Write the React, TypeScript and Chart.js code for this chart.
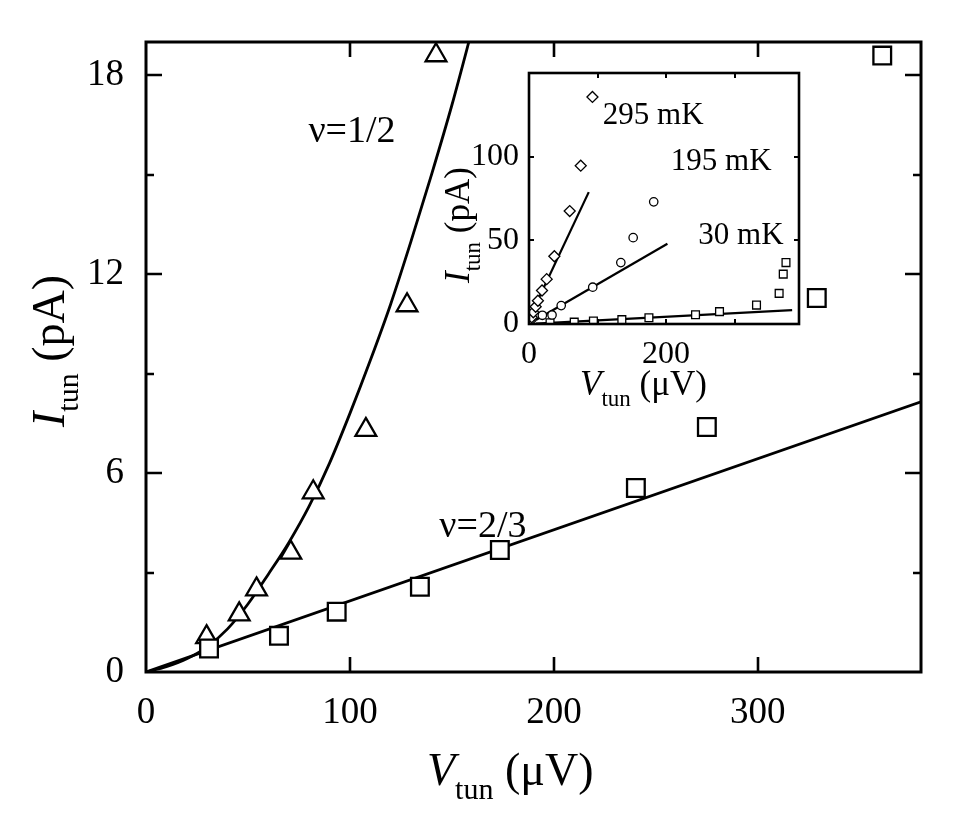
import React, { useEffect, useRef } from "react";
import { Chart, registerables } from "chart.js";

Chart.register(...registerables);

const FONT = "'Liberation Serif', 'Times New Roman', Times, serif";

// ---------- main panel data ----------
const NU12_V = [29.7, 45.7, 54.2, 71, 82, 107.8, 128, 142.2];
const NU12_I = [1.05, 1.74, 2.49, 3.6, 5.42, 7.3, 11.06, 18.6];
const NU23_V = [30.9, 65.2, 93.5, 134.3, 173.5, 240.2, 275, 328.9, 361];
const NU23_I = [0.71, 1.09, 1.82, 2.57, 3.68, 5.55, 7.39, 11.28, 18.59];
const FIT12_V = [0, 10, 20, 30, 40, 50, 60, 70, 80, 90, 100, 110, 120, 130, 140, 150, 160, 166];
const FIT12_I = [0, 0.16, 0.4, 0.76, 1.3, 2.05, 2.95, 3.9, 5.0, 6.3, 7.8, 9.4, 11.1, 13.0, 15.0, 17.1, 19.4, 20.8];
const FIT23_V = [0, 380];
const FIT23_I = [0, 8.15];

const MAIN_X_TICKS = [0, 100, 200, 300];
const MAIN_Y_TICKS = [0, 3, 6, 9, 12, 15, 18];
const MAIN_Y_LABELS = [0, 6, 12, 18];

const MAIN_NOTE_TEXT = ["ν=1/2", "ν=2/3"];
const MAIN_NOTE_V = [101, 165.2];
const MAIN_NOTE_I = [16.3, 4.37];

// ---------- inset data ----------
const T295_V = [1.5, 4, 6.3, 9.7, 13, 19, 25.8, 37, 59.4, 75.5, 92.6];
const T295_I = [1.8, 4, 7, 10.3, 13.9, 20, 26.8, 40.5, 67.5, 94.6, 135.7];
const T195_V = [19.5, 33.6, 47, 93, 134, 152, 182];
const T195_I = [5.2, 5.4, 11, 22, 36.7, 51.6, 73];
const T30_V = [30.7, 66, 94, 135.5, 175, 243, 278, 332, 365, 371, 375];
const T30_I = [0.7, 1.1, 1.8, 2.6, 3.7, 5.5, 7.4, 11.3, 18.3, 29.8, 36.7];
const FIT295_V = [8, 87.2];
const FIT295_I = [10, 78.8];
const FIT195_V = [10, 202];
const FIT195_I = [2.4, 48];
const FIT30_V = [10, 384];
const FIT30_I = [0.2, 8.3];

const INSET_X_TICKS = [0, 100, 200, 300];
const INSET_X_LABELS = [0, 200];
const INSET_Y_TICKS = [0, 50, 100, 150];
const INSET_Y_LABELS = [0, 50, 100];

const INSET_NOTE_TEXT = ["295 mK", "195 mK", "30 mK"];
const INSET_NOTE_V = [181.3, 280.4, 309.2];
const INSET_NOTE_I = [124.4, 97, 52.4];

const pts = (xs: number[], ys: number[]) => xs.map((x, i) => ({ x, y: ys[i] }));

type Part = { t: string; size: number; italic?: boolean; dy?: number };

function drawParts(ctx: CanvasRenderingContext2D, parts: Part[], x: number, y: number, rot: number) {
  ctx.save();
  ctx.translate(x, y);
  if (rot) ctx.rotate(rot);
  ctx.fillStyle = "#000";
  ctx.textBaseline = "alphabetic";
  ctx.textAlign = "left";
  let cx = 0;
  for (const p of parts) {
    ctx.font = `${p.italic ? "italic " : ""}${p.size}px ${FONT}`;
    ctx.fillText(p.t, cx, p.dy || 0);
    cx += ctx.measureText(p.t).width;
  }
  ctx.restore();
}

type FrameOpts = {
  fill: boolean;
  frame: number;
  tick: number;
  xTicks: number[];
  xLen: number;
  yTicks: number[];
  yMajor: number[];
  yMajorLen: number;
  yMinorLen: number;
};

function framePlugin(o: FrameOpts) {
  return {
    id: "frameTicks",
    beforeDraw(chart: any) {
      if (!o.fill) return;
      const a = chart.chartArea;
      const ctx = chart.ctx;
      ctx.save();
      ctx.fillStyle = "#fff";
      ctx.fillRect(a.left, a.top, a.right - a.left, a.bottom - a.top);
      ctx.restore();
    },
    afterDatasetsDraw(chart: any) {
      const a = chart.chartArea;
      const ctx = chart.ctx;
      const sx = chart.scales.x;
      const sy = chart.scales.y;
      ctx.save();
      ctx.strokeStyle = "#000";
      ctx.lineWidth = o.tick;
      ctx.lineCap = "butt";
      ctx.beginPath();
      for (const v of o.xTicks) {
        if (v === sx.min) continue;
        const px = Math.round(sx.getPixelForValue(v));
        ctx.moveTo(px, a.bottom);
        ctx.lineTo(px, a.bottom - o.xLen);
        ctx.moveTo(px, a.top);
        ctx.lineTo(px, a.top + o.xLen);
      }
      for (const v of o.yTicks) {
        if (v === sy.min || v >= sy.max) continue;
        const py = Math.round(sy.getPixelForValue(v));
        const len = o.yMajor.includes(v) ? o.yMajorLen : o.yMinorLen;
        ctx.moveTo(a.left, py);
        ctx.lineTo(a.left + len, py);
        ctx.moveTo(a.right, py);
        ctx.lineTo(a.right - len, py);
      }
      ctx.stroke();
      ctx.lineWidth = o.frame;
      ctx.strokeRect(a.left, a.top, a.right - a.left, a.bottom - a.top);
      ctx.restore();
    },
  };
}

function textPlugin(
  notes: string[],
  nx: number[],
  ny: number[],
  noteSize: number,
  titles: { parts: Part[]; x: number; y: number; rot: number }[]
) {
  return {
    id: "texts",
    afterDraw(chart: any) {
      const ctx = chart.ctx;
      const sx = chart.scales.x;
      const sy = chart.scales.y;
      ctx.save();
      ctx.fillStyle = "#000";
      ctx.font = `${noteSize}px ${FONT}`;
      ctx.textAlign = "center";
      ctx.textBaseline = "middle";
      notes.forEach((t, i) => {
        ctx.fillText(t, sx.getPixelForValue(nx[i]), sy.getPixelForValue(ny[i]));
      });
      ctx.restore();
      for (const t of titles) drawParts(ctx, t.parts, t.x, t.y, t.rot);
    },
  };
}

const marker = (data: any[], style: string, r: number, bw: number) => ({
  data,
  showLine: false,
  pointStyle: style,
  pointRadius: r,
  pointBorderWidth: bw,
  pointBorderColor: "#000",
  pointBackgroundColor: "#fff",
  order: 0,
});

const line = (data: any[], w: number, smooth: boolean) => ({
  data,
  showLine: true,
  pointRadius: 0,
  borderColor: "#000",
  borderWidth: w,
  cubicInterpolationMode: smooth ? "monotone" : "default",
  fill: false,
  order: 1,
});

export default function App() {
  const mainRef = useRef<HTMLCanvasElement | null>(null);
  const insetRef = useRef<HTMLCanvasElement | null>(null);

  useEffect(() => {
    if (!mainRef.current || !insetRef.current) return;

    const main = new Chart(mainRef.current, {
      type: "scatter",
      data: {
        datasets: [
          marker(pts(NU23_V, NU23_I), "rect", 12.5, 2.3) as any,
          marker(pts(NU12_V, NU12_I), "triangle", 12, 2.3) as any,
          line(pts(FIT12_V, FIT12_I), 2.8, true) as any,
          line(pts(FIT23_V, FIT23_I), 2.8, false) as any,
        ],
      },
      options: {
        animation: false,
        responsive: false,
        maintainAspectRatio: false,
        events: [],
        layout: { padding: { left: 0, top: 42, right: 56, bottom: 0 } },
        plugins: { legend: { display: false }, tooltip: { enabled: false } },
        scales: {
          x: {
            type: "linear",
            position: "bottom",
            min: 0,
            max: 380,
            grid: { display: false },
            border: { display: false },
            afterBuildTicks: (s: any) => {
              s.ticks = MAIN_X_TICKS.map((v) => ({ value: v }));
            },
            ticks: {
              autoSkip: false,
              maxRotation: 0,
              padding: 11,
              color: "#000",
              font: { family: FONT, size: 37 },
              callback: (v: any) => String(v),
            },
            afterFit: (s: any) => {
              s.height = 163;
            },
          },
          y: {
            type: "linear",
            position: "left",
            min: 0,
            max: 19,
            grid: { display: false },
            border: { display: false },
            afterBuildTicks: (s: any) => {
              s.ticks = MAIN_Y_TICKS.map((v) => ({ value: v }));
            },
            ticks: {
              autoSkip: false,
              padding: 14,
              color: "#000",
              font: { family: FONT, size: 37 },
              callback: (v: any) => (MAIN_Y_LABELS.includes(Number(v)) ? String(v) : ""),
            },
            afterFit: (s: any) => {
              s.width = 146;
            },
          },
        },
      },
      plugins: [
        framePlugin({
          fill: false,
          frame: 3,
          tick: 2.6,
          xTicks: MAIN_X_TICKS,
          xLen: 15,
          yTicks: MAIN_Y_TICKS,
          yMajor: MAIN_Y_LABELS,
          yMajorLen: 16,
          yMinorLen: 8,
        }) as any,
        textPlugin(MAIN_NOTE_TEXT, MAIN_NOTE_V, MAIN_NOTE_I, 38, [
          {
            parts: [
              { t: "V", size: 46, italic: true },
              { t: "tun", size: 30, dy: 14 },
              { t: " (μV)", size: 46 },
            ],
            x: 427,
            y: 785,
            rot: 0,
          },
          {
            parts: [
              { t: "I", size: 46, italic: true },
              { t: "tun", size: 30, dy: 14 },
              { t: " (pA)", size: 46 },
            ],
            x: 64,
            y: 427,
            rot: -Math.PI / 2,
          },
        ]) as any,
      ],
    });

    const inset = new Chart(insetRef.current, {
      type: "scatter",
      data: {
        datasets: [
          marker(pts(T295_V, T295_I), "rectRot", 5.5, 1.3) as any,
          marker(pts(T195_V, T195_I), "circle", 4.2, 1.3) as any,
          marker(pts(T30_V, T30_I), "rect", 5.5, 1.3) as any,
          line(pts(FIT295_V, FIT295_I), 2.2, false) as any,
          line(pts(FIT195_V, FIT195_I), 2.2, false) as any,
          line(pts(FIT30_V, FIT30_I), 2.2, false) as any,
        ],
      },
      options: {
        animation: false,
        responsive: false,
        maintainAspectRatio: false,
        events: [],
        layout: { padding: { left: 0, top: 73, right: 178, bottom: 0 } },
        plugins: { legend: { display: false }, tooltip: { enabled: false } },
        scales: {
          x: {
            type: "linear",
            position: "bottom",
            min: 0,
            max: 394,
            grid: { display: false },
            border: { display: false },
            afterBuildTicks: (s: any) => {
              s.ticks = INSET_X_TICKS.map((v) => ({ value: v }));
            },
            ticks: {
              autoSkip: false,
              maxRotation: 0,
              padding: 3,
              color: "#000",
              font: { family: FONT, size: 32 },
              callback: (v: any) => (INSET_X_LABELS.includes(Number(v)) ? String(v) : ""),
            },
            afterFit: (s: any) => {
              s.height = 511;
            },
          },
          y: {
            type: "linear",
            position: "left",
            min: 0,
            max: 150,
            grid: { display: false },
            border: { display: false },
            afterBuildTicks: (s: any) => {
              s.ticks = INSET_Y_TICKS.map((v) => ({ value: v }));
            },
            ticks: {
              autoSkip: false,
              padding: 2,
              color: "#000",
              font: { family: FONT, size: 32 },
              callback: (v: any) => (INSET_Y_LABELS.includes(Number(v)) ? String(v) : ""),
            },
            afterFit: (s: any) => {
              s.width = 529;
            },
          },
        },
      },
      plugins: [
        framePlugin({
          fill: true,
          frame: 2.6,
          tick: 2,
          xTicks: INSET_X_TICKS,
          xLen: 5,
          yTicks: INSET_Y_TICKS,
          yMajor: INSET_Y_LABELS,
          yMajorLen: 5,
          yMinorLen: 5,
        }) as any,
        textPlugin(INSET_NOTE_TEXT, INSET_NOTE_V, INSET_NOTE_I, 31, [
          {
            parts: [
              { t: "V", size: 35, italic: true },
              { t: "tun", size: 23, dy: 11 },
              { t: " (μV)", size: 35 },
            ],
            x: 580,
            y: 395,
            rot: 0,
          },
          {
            parts: [
              { t: "I", size: 35, italic: true },
              { t: "tun", size: 23, dy: 11 },
              { t: " (pA)", size: 35 },
            ],
            x: 469,
            y: 283,
            rot: -Math.PI / 2,
          },
        ]) as any,
      ],
    });

    return () => {
      main.destroy();
      inset.destroy();
    };
  }, []);

  return (
    <div
      style={{
        position: "fixed",
        left: 0,
        top: 0,
        width: 977,
        height: 835,
        background: "#fff",
        overflow: "hidden",
      }}
    >
      <canvas
        ref={mainRef}
        width={977}
        height={835}
        style={{ position: "absolute", left: 0, top: 0, width: 977, height: 835 }}
      />
      <canvas
        ref={insetRef}
        width={977}
        height={835}
        style={{ position: "absolute", left: 0, top: 0, width: 977, height: 835 }}
      />
    </div>
  );
}
